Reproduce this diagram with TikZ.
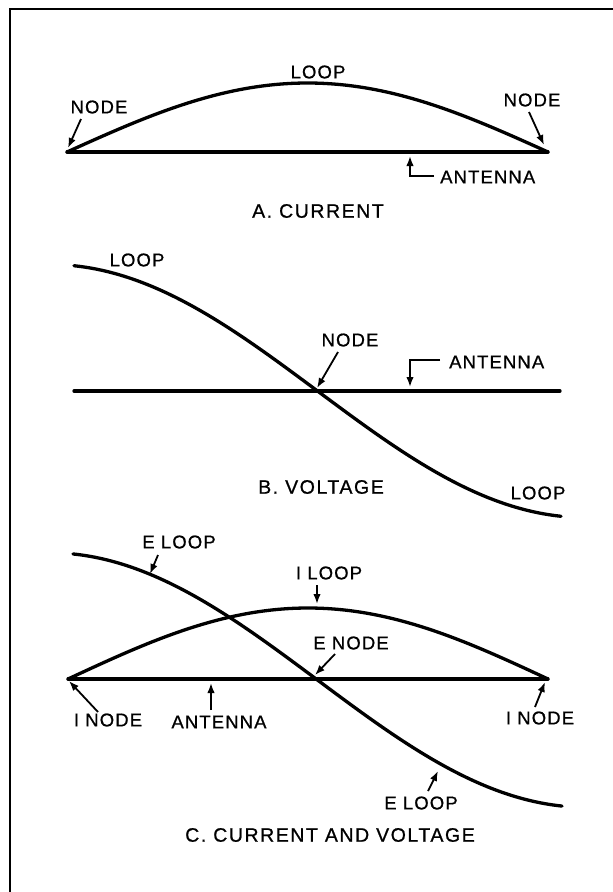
\documentclass[tikz,border=0pt]{standalone}
\usepackage{fontspec}
\setmainfont{Liberation Sans}
\newfontfamily\lblfont[LetterSpace=6,FakeBold=0.8]{Liberation Sans}
\newfontfamily\ttlfont[LetterSpace=8,FakeBold=0.8]{Liberation Sans}
\usetikzlibrary{arrows.meta}
\tikzset{
  wave/.style={line width=3.3pt, line cap=round},
  ant/.style={line width=3.3pt, line cap=round},
  lbl/.style={inner sep=0pt, font=\lblfont\fontsize{18.5}{18.5}\selectfont},
  ttl/.style={inner sep=0pt, font=\ttlfont\fontsize{19.5}{19.5}\selectfont},
  ptr/.style={line width=1.8pt, -{Latex[length=10pt,width=7.5pt]}},
}
\begin{document}
\begin{tikzpicture}[x=1pt,y=-1pt]
\useasboundingbox (0,0) rectangle (613,892);
% frame
\draw[line width=2.5pt] (10,892) -- (10,9) -- (613,9);

% ---------- A. CURRENT ----------
\draw[ant] (67,152) -- (548,152);
\draw[wave] plot[domain=67:548, samples=80, smooth] (\x, {152-69*sin((\x-67)/481*180)});
\node[lbl] (aloop) at (318,72) {LOOP};
\node[lbl] (anodeL) at (99,107) {NODE};
\node[lbl] (anodeR) at (532,100) {NODE};
\coordinate (anodeLs) at (81,119); \coordinate (anodeLe) at (68,148);
\coordinate (anodeRs) at (529,112); \coordinate (anodeRe) at (544,145);
\draw[ptr] (anodeLs) -- (anodeLe);
\draw[ptr] (anodeRs) -- (anodeRe);
\node[lbl, anchor=west] (aant) at (440,177) {ANTENNA};
\coordinate (aante) at (410,156);
\draw[ptr] ([xshift=-6pt,yshift=1pt]aant.west) -| (aante);
\node[ttl] (atitle) at (318,211) {A. CURRENT};

% ---------- B. VOLTAGE ----------
\draw[ant] (74,391) -- (560,391);
\draw[wave] plot[domain=74:561, samples=80, smooth] (\x, {391-126.5*sin((317.5-\x)/243.5*82)});
\node[lbl] (bloopT) at (137,260) {LOOP};
\node[lbl] (bnode) at (350,340) {NODE};
\coordinate (bnodes) at (338,352); \coordinate (bnodee) at (317,388);
\draw[ptr] (bnodes) -- (bnodee);
\node[lbl, anchor=west] (bant) at (449,362) {ANTENNA};
\coordinate (bante) at (410,387);
\draw[ptr] ([xshift=-9pt,yshift=2pt]bant.west) -| (bante);
\node[ttl] (btitle) at (321,487) {B. VOLTAGE};
\node[lbl] (bloopB) at (538,493) {LOOP};

% ---------- C. CURRENT AND VOLTAGE ----------
\draw[ant] (68,679) -- (548,679);
\draw[wave] plot[domain=68:548, samples=80, smooth] (\x, {679-71*sin((\x-68)/480*180)});
\draw[wave] plot[domain=73:562, samples=80, smooth] (\x, {680-127.3*sin((317.5-\x)/244.5*82)});
\node[lbl] (celoopT) at (179,542) {E LOOP};
\coordinate (celoopTs) at (158,555); \coordinate (celoopTe) at (150,574);
\draw[ptr] (celoopTs) -- (celoopTe);
\node[lbl] (ciloop) at (329,573) {I LOOP};
\coordinate (ciloops) at (317,585); \coordinate (ciloope) at (317,604);
\draw[ptr] (ciloops) -- (ciloope);
\node[lbl] (cenode) at (351,643) {E NODE};
\coordinate (cenodes) at (335,654); \coordinate (cenodee) at (315,675);
\draw[ptr] (cenodes) -- (cenodee);
\node[lbl] (cinodeL) at (108,720) {I NODE};
\coordinate (cinodeLs) at (98,712); \coordinate (cinodeLe) at (69,681);
\draw[ptr] (cinodeLs) -- (cinodeLe);
\node[lbl] (cant) at (219,722) {ANTENNA};
\coordinate (cants) at (211,710); \coordinate (cante) at (211,683);
\draw[ptr] (cants) -- (cante);
\node[lbl] (cinodeR) at (540,718) {I NODE};
\coordinate (cinodeRs) at (535,707); \coordinate (cinodeRe) at (545,682);
\draw[ptr] (cinodeRs) -- (cinodeRe);
\node[lbl] (celoopB) at (421,803) {E LOOP};
\coordinate (celoopBs) at (428,791); \coordinate (celoopBe) at (438,771);
\draw[ptr] (celoopBs) -- (celoopBe);
\node[ttl] (ctitle) at (330,835) {C. CURRENT AND VOLTAGE};
\end{tikzpicture}
\end{document}
